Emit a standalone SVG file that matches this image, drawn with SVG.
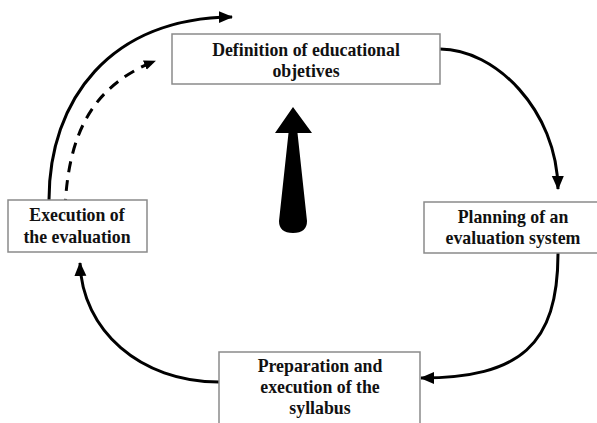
<svg xmlns="http://www.w3.org/2000/svg" width="597" height="423" viewBox="0 0 597 423">
<style>
.box{fill:#fff;stroke:#8a8a8a;stroke-width:1.5}
.t{font-family:"Liberation Serif","Times New Roman",serif;font-weight:bold;font-size:17.8px;fill:#111;text-anchor:middle}
.c{fill:none;stroke:#000;stroke-width:3}
.d{fill:none;stroke:#000;stroke-width:3;stroke-dasharray:11,8}
</style>
<defs>
<marker id="ah" markerUnits="userSpaceOnUse" markerWidth="16" markerHeight="14" refX="13" refY="7" orient="auto">
<path d="M0,1 L14,7 L0,13 Z" fill="#000"/>
</marker>
<marker id="ahs" markerUnits="userSpaceOnUse" markerWidth="14" markerHeight="12" refX="11" refY="6" orient="auto">
<path d="M0,1 L12,6 L0,11 Z" fill="#000"/>
</marker>
</defs>
<rect width="597" height="423" fill="#fff"/>
<g id="connectors">
<path class="c" d="M49,200 C49,100 110,18 232,17" marker-end="url(#ah)"/>
<path class="d" d="M65,210 C68,130 95,85 155,61" marker-end="url(#ahs)"/>
<path class="c" d="M440,49 C495,49 557,110 558,189" marker-end="url(#ah)"/>
<path class="c" d="M558,253 C558,345 520,378 421,378" marker-end="url(#ah)"/>
<path class="c" d="M219,382 C140,382 82,330 80,263" marker-end="url(#ah)"/>
</g>
<g id="big-arrow">
<path d="M293,107 L312,133 L297.5,133 L307,221 Q307,233 293,233 Q279,233 279,221 L288.5,133 L275,133 Z" fill="#000"/>
</g>
<g id="node-definition">
<rect class="box" x="172" y="34" width="268" height="50"/>
<text class="t" x="306" y="56">Definition of educational</text>
<text class="t" x="306" y="77">objetives</text>
</g>
<g id="node-planning">
<rect class="box" x="424" y="202" width="180" height="51"/>
<text class="t" x="513" y="223">Planning of an</text>
<text class="t" x="513" y="244">evaluation system</text>
</g>
<g id="node-execution">
<rect class="box" x="8" y="200" width="139" height="52"/>
<text class="t" x="77" y="221">Execution of</text>
<text class="t" x="77" y="243">the evaluation</text>
</g>
<g id="node-preparation">
<rect class="box" x="219" y="352" width="201" height="80"/>
<text class="t" x="320" y="372">Preparation and</text>
<text class="t" x="320" y="393">execution of the</text>
<text class="t" x="320" y="414">syllabus</text>
</g>
</svg>
